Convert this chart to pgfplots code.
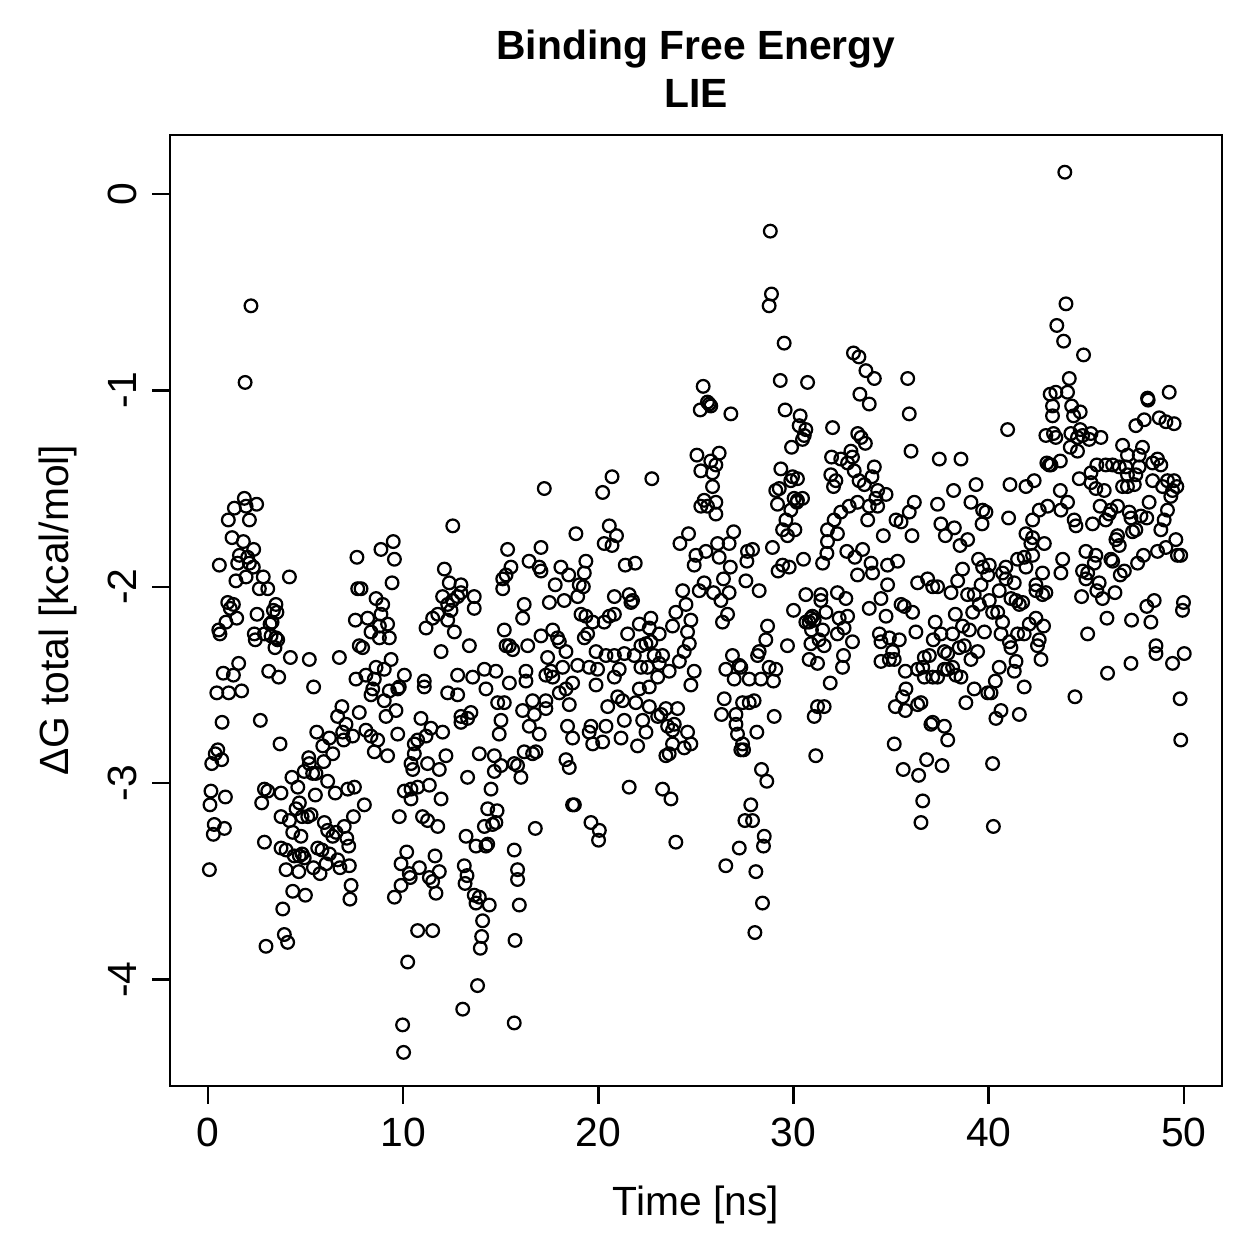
\documentclass[border=0pt]{standalone}
\usepackage{pgfplots}
\pgfplotsset{compat=1.18}
\usepackage{fontspec}
\setmainfont{Liberation Sans}
\begin{document}
\begin{tikzpicture}
\path[use as bounding box] (-68.3pt,-69.5pt) rectangle (437.6pt,436.3pt);
\begin{axis}[
  scale only axis, width=422.7pt, height=382.1pt,
  xmin=-1.95, xmax=51.95, ymin=-4.54, ymax=0.30,
  xtick={0,10,20,30,40,50}, ytick={-4,-3,-2,-1,0},
  tick align=outside, major tick length=7.2pt,
  xtick pos=bottom, ytick pos=left,
  tick style={line width=1pt, black},
  axis line style={line width=1pt},
  /pgf/number format/assume math mode=true,
  ticklabel style={font=\fontsize{16.4}{19.7}\selectfont},
  xticklabel style={anchor=base},
  yticklabel style={rotate=90, anchor=base},
  xticklabel shift=17.3pt,
  yticklabel shift=6.4pt,
]
\addplot[only marks, mark=o, mark size=2.55pt, mark options={line width=0.9pt, black}] coordinates {
(2.2,-0.57) (1.9,-0.96) (1.86,-1.55) (1.35,-1.60) (1.95,-1.59) (2.49,-1.58) (1.04,-1.66) (2.12,-1.66) (1.23,-1.75) (1.81,-1.77) (2.34,-1.81) (1.61,-1.84) (2.03,-1.85) (0.58,-1.89) (1.52,-1.88) (2.12,-1.88) (2.32,-1.90) (1.95,-1.95) (1.43,-1.97) (2.83,-1.95) (4.17,-1.95) (2.63,-2.01) (3.06,-2.01) (7.63,-1.85) (7.67,-2.01) (7.84,-2.01)
(1.01,-2.08) (1.30,-2.09) (1.14,-2.11) (1.47,-2.16) (0.92,-2.18) (0.55,-2.22) (0.61,-2.24) (2.51,-2.14) (3.48,-2.09) (3.35,-2.12) (3.53,-2.13) (3.28,-2.18) (3.18,-2.19) (2.37,-2.24) (2.42,-2.27) (2.89,-2.24) (3.23,-2.25) (3.48,-2.26) (3.57,-2.27) (3.43,-2.31) (4.22,-2.36) (5.19,-2.37) (6.73,-2.36) (7.55,-2.17) (7.75,-2.30) (7.92,-2.31) (7.58,-2.47) (1.57,-2.39) (0.78,-2.44) (1.30,-2.45) (0.45,-2.54) (1.06,-2.54) (1.72,-2.53) (3.11,-2.43) (3.62,-2.46) (5.41,-2.51) (0.72,-2.69) (2.68,-2.68) (3.69,-2.80) (0.50,-2.83) (0.37,-2.85) (0.70,-2.88) (0.19,-2.90) (5.57,-2.74) (6.22,-2.77) (5.88,-2.81) (6.39,-2.85) (5.93,-2.89) (6.64,-2.66) (6.86,-2.61) (7.07,-2.70) (6.90,-2.74) (7.41,-2.76) (6.95,-2.78) (7.75,-2.64) (5.16,-2.87) (5.19,-2.90) (4.93,-2.94) (5.36,-2.95) (5.53,-2.95) (4.30,-2.97) (4.60,-3.02) (6.13,-2.99) (5.50,-3.06) (6.52,-3.05) (7.16,-3.03) (7.50,-3.02) (0.15,-3.04) (0.10,-3.11) (0.89,-3.07) (2.89,-3.03) (3.06,-3.04) (2.75,-3.10) (3.74,-3.05) (3.74,-3.17) (4.17,-3.19) (4.51,-3.13) (4.68,-3.10) (4.82,-3.17) (5.11,-3.17) (5.28,-3.16) (4.34,-3.25) (4.76,-3.27) (7.45,-3.17) (5.96,-3.20) (6.13,-3.24) (6.39,-3.27) (6.56,-3.25) (6.98,-3.22) (7.11,-3.28) (7.21,-3.32) (0.32,-3.21) (0.27,-3.26) (0.84,-3.23) (2.89,-3.30) (3.74,-3.33) (4.0,-3.34) (4.42,-3.37) (4.68,-3.37) (4.93,-3.38) (4.82,-3.36) (5.62,-3.33) (5.84,-3.34) (6.22,-3.36) (4.0,-3.44) (4.65,-3.45) (5.40,-3.43) (5.74,-3.46) (6.05,-3.41) (6.64,-3.39) (6.76,-3.43) (7.24,-3.42) (0.07,-3.44) (7.33,-3.52) (7.27,-3.59) (4.34,-3.55) (4.99,-3.57) (3.83,-3.64) (3.91,-3.77) (4.08,-3.81) (2.97,-3.83)
(12.54,-1.69) (9.49,-1.77) (8.86,-1.81) (9.55,-1.86) (9.43,-1.98) (12.11,-1.91) (12.36,-1.98) (12.96,-1.99) (15.35,-1.81) (15.52,-1.90) (15.27,-1.94) (15.10,-1.96) (15.10,-2.01) (16.45,-1.87)
(8.61,-2.06) (8.95,-2.09) (8.18,-2.16) (8.86,-2.14) (9.20,-2.19) (8.78,-2.20) (8.35,-2.23) (8.78,-2.26) (9.29,-2.26) (9.38,-2.37) (8.61,-2.41) (9.03,-2.42) (10.06,-2.45) (8.09,-2.45) (8.52,-2.47) (8.44,-2.52) (8.35,-2.55) (9.29,-2.53) (9.72,-2.52) (9.80,-2.51) (9.03,-2.58) (9.63,-2.63) (9.12,-2.66) (8.09,-2.73) (8.35,-2.76) (8.69,-2.78) (8.52,-2.84) (9.20,-2.86) (9.72,-2.75)
(11.08,-2.48) (11.08,-2.51) (11.94,-2.33) (12.62,-2.23) (11.17,-2.21) (11.51,-2.16) (11.77,-2.14) (12.28,-2.17) (12.02,-2.05) (12.28,-2.09) (12.53,-2.07) (12.79,-2.05) (12.45,-2.12) (12.96,-2.03) (13.64,-2.05) (13.64,-2.11) (13.39,-2.30) (12.79,-2.45) (13.56,-2.46) (14.16,-2.42) (14.75,-2.43) (15.44,-2.49) (14.24,-2.52) (12.28,-2.54) (12.79,-2.55) (14.84,-2.59) (15.18,-2.59) (16.12,-2.63) (15.01,-2.68) (14.92,-2.75) (15.18,-2.22) (15.27,-2.30) (15.61,-2.32) (15.44,-2.30) (16.20,-2.09) (16.12,-2.16) (16.38,-2.30) (16.29,-2.43) (16.29,-2.48)
(10.91,-2.67) (11.42,-2.72) (12.02,-2.74) (11.17,-2.76) (10.74,-2.78) (10.57,-2.80) (10.57,-2.85) (10.40,-2.90) (10.49,-2.93) (11.25,-2.90) (11.85,-2.93) (12.19,-2.86) (12.96,-2.66) (13.47,-2.64) (12.96,-2.69) (13.30,-2.67) (13.90,-2.85) (14.67,-2.86) (15.01,-2.91) (15.69,-2.90) (15.86,-2.91) (16.03,-2.97) (14.67,-2.94) (16.20,-2.84) (13.30,-2.97) (14.50,-3.03) (11.34,-3.01) (10.06,-3.04) (10.40,-3.03) (10.74,-3.02) (10.40,-3.08) (11.94,-3.08) (8.01,-3.11) (9.80,-3.17) (10.99,-3.17) (11.25,-3.19) (11.77,-3.22)
(14.33,-3.13) (14.81,-3.14) (14.16,-3.22) (14.58,-3.21) (14.75,-3.20) (13.22,-3.27) (13.73,-3.32) (14.24,-3.32) (14.33,-3.31) (15.69,-3.34) (10.18,-3.35) (9.89,-3.41) (10.31,-3.46) (10.83,-3.43) (9.89,-3.52) (9.55,-3.58) (11.63,-3.37) (11.85,-3.45) (11.34,-3.48) (11.51,-3.50) (11.68,-3.56) (10.36,-3.48) (13.13,-3.42) (13.27,-3.47) (13.17,-3.51) (13.64,-3.57) (13.90,-3.58) (13.73,-3.61) (14.41,-3.62) (14.07,-3.70) (14.02,-3.78) (13.95,-3.84) (15.86,-3.44) (15.86,-3.49) (15.95,-3.62) (15.73,-3.80) (10.74,-3.75) (11.51,-3.75) (10.23,-3.91) (13.81,-4.03) (13.05,-4.15) (9.97,-4.23) (15.69,-4.22) (10.02,-4.37)
(17.23,-1.50) (20.70,-1.44) (20.22,-1.52) (22.74,-1.45) (18.85,-1.73) (17.06,-1.80) (20.56,-1.69) (20.93,-1.74) (20.30,-1.78) (20.70,-1.79) (24.62,-1.73) (24.18,-1.78) (16.97,-1.90) (17.06,-1.92) (18.08,-1.90) (18.48,-1.94) (17.79,-1.99) (19.36,-1.87) (19.28,-1.93) (19.02,-1.99) (19.23,-2.00) (21.38,-1.89) (21.89,-1.88) (24.32,-2.02)
(17.49,-2.08) (18.25,-2.07) (18.94,-2.05) (20.82,-2.05) (21.58,-2.04) (21.75,-2.07) (21.67,-2.08) (19.11,-2.14) (19.36,-2.15) (19.71,-2.18) (20.30,-2.18) (20.56,-2.15) (20.82,-2.14) (19.28,-2.26) (19.45,-2.24) (21.50,-2.24) (22.10,-2.19) (22.69,-2.16) (22.61,-2.21) (23.12,-2.24) (23.97,-2.13) (24.49,-2.09) (24.74,-2.17) (23.80,-2.20) (24.57,-2.23) (24.66,-2.29)
(17.06,-2.25) (17.66,-2.22) (17.91,-2.26) (18.00,-2.28) (18.34,-2.33) (17.40,-2.36) (18.17,-2.41) (17.31,-2.45) (17.57,-2.43) (17.66,-2.46) (18.94,-2.40) (18.68,-2.49) (18.34,-2.52) (18.00,-2.54) (19.88,-2.33) (20.39,-2.35) (19.96,-2.42) (19.53,-2.41) (19.88,-2.50) (20.82,-2.35) (21.33,-2.34) (21.84,-2.35) (21.07,-2.42) (20.82,-2.46) (22.18,-2.30) (22.44,-2.29) (22.69,-2.28) (22.86,-2.35) (22.18,-2.41) (22.52,-2.41) (23.12,-2.39) (23.29,-2.35) (23.63,-2.43) (24.15,-2.38) (24.40,-2.33) (23.04,-2.46) (22.61,-2.51) (22.10,-2.52) (24.74,-2.50) (24.91,-2.43)
(16.63,-2.58) (17.31,-2.58) (16.72,-2.65) (17.31,-2.62) (18.51,-2.60) (16.46,-2.71) (16.97,-2.75) (16.63,-2.85) (16.80,-2.84) (18.42,-2.71) (18.68,-2.77) (19.62,-2.71) (19.53,-2.74) (19.71,-2.80) (20.22,-2.79) (20.39,-2.71) (21.16,-2.77) (21.33,-2.68) (20.48,-2.61) (20.99,-2.56) (21.24,-2.58) (21.92,-2.59) (22.27,-2.68) (22.44,-2.74) (22.01,-2.81) (22.61,-2.61) (23.04,-2.66) (23.21,-2.65) (23.46,-2.62) (24.06,-2.62) (23.55,-2.71) (23.80,-2.73) (23.89,-2.70) (24.57,-2.74) (23.80,-2.80) (24.40,-2.82) (24.74,-2.80) (23.46,-2.86) (23.63,-2.85) (18.34,-2.88) (18.51,-2.92) (21.58,-3.02) (23.29,-3.03) (23.72,-3.08) (18.77,-3.11) (18.68,-3.11) (16.77,-3.23) (19.62,-3.20) (20.05,-3.24) (20.01,-3.29) (23.97,-3.30)
(28.81,-0.19) (28.87,-0.51) (28.75,-0.57) (29.52,-0.76) (33.07,-0.81) (33.35,-0.83) (29.32,-0.95) (30.72,-0.96) (25.37,-0.98) (25.59,-1.06) (25.68,-1.07) (25.76,-1.08) (25.22,-1.10) (26.79,-1.12) (29.57,-1.10) (30.34,-1.13) (30.29,-1.18) (30.63,-1.20) (30.55,-1.23) (30.46,-1.25) (29.90,-1.29) (32.00,-1.19) (25.05,-1.33) (25.76,-1.36) (26.19,-1.32) (26.02,-1.38) (25.25,-1.41) (25.85,-1.42) (25.85,-1.49) (25.42,-1.56) (25.25,-1.59) (25.59,-1.59) (26.02,-1.57) (26.02,-1.63)
(29.35,-1.40) (29.86,-1.46) (29.95,-1.44) (30.20,-1.45) (29.09,-1.51) (29.27,-1.50) (29.18,-1.58) (30.03,-1.55) (30.20,-1.56) (30.46,-1.55) (30.17,-1.57) (29.86,-1.61) (29.61,-1.66) (29.44,-1.71) (29.69,-1.74) (30.07,-1.71) (31.95,-1.34) (32.42,-1.35) (32.77,-1.37) (32.94,-1.31) (33.02,-1.34) (31.91,-1.43) (32.17,-1.46) (32.05,-1.49) (33.11,-1.41) (33.36,-1.46) (33.28,-1.57) (32.85,-1.59) (32.42,-1.62) (32.08,-1.66) (32.25,-1.73) (31.74,-1.71) (31.74,-1.77) (31.71,-1.83) (31.49,-1.88) (32.73,-1.82) (33.14,-1.85) (33.28,-1.94)
(25.00,-1.84) (24.91,-1.89) (25.51,-1.82) (26.11,-1.78) (26.70,-1.78) (26.93,-1.72) (26.19,-1.85) (26.76,-1.90) (27.64,-1.82) (27.90,-1.81) (27.61,-1.87) (27.56,-1.97) (28.24,-2.02) (26.41,-1.96) (25.42,-1.98) (25.17,-2.02) (25.90,-2.03) (26.70,-2.03) (28.92,-1.80) (29.21,-1.92) (29.44,-1.89) (29.78,-1.90) (30.51,-1.86)
(30.63,-2.04) (31.40,-2.04) (32.25,-2.03) (32.68,-2.06) (31.40,-2.07) (26.28,-2.07) (26.62,-2.14) (26.36,-2.18) (28.67,-2.20) (28.58,-2.27) (28.24,-2.33) (28.16,-2.35) (26.87,-2.35) (26.53,-2.42) (27.22,-2.40) (27.30,-2.41) (26.96,-2.47) (27.73,-2.47) (28.33,-2.47) (28.75,-2.41) (29.09,-2.42) (28.97,-2.48) (29.69,-2.30) (30.00,-2.12)
(30.80,-2.18) (30.89,-2.16) (30.97,-2.15) (31.06,-2.17) (30.92,-2.22) (30.63,-2.18) (31.66,-2.13) (31.49,-2.22) (32.25,-2.24) (32.34,-2.16) (32.77,-2.15) (32.59,-2.21) (33.02,-2.28) (31.31,-2.27) (30.89,-2.29) (31.57,-2.30) (30.80,-2.37) (31.23,-2.39) (32.56,-2.35) (32.51,-2.41) (31.88,-2.49)
(26.45,-2.57) (26.31,-2.65) (27.05,-2.65) (27.05,-2.70) (27.13,-2.75) (27.39,-2.80) (27.30,-2.83) (27.44,-2.83) (27.39,-2.59) (27.73,-2.59) (27.98,-2.58) (28.12,-2.74) (29.01,-2.66) (31.06,-2.66) (31.23,-2.61) (31.57,-2.61) (31.14,-2.86) (28.36,-2.93) (28.63,-2.99) (27.81,-3.11) (27.51,-3.19) (27.90,-3.19) (28.50,-3.27) (28.46,-3.32) (27.22,-3.33) (26.53,-3.42) (28.07,-3.45) (28.41,-3.61) (28.02,-3.76)
(33.71,-0.90) (34.14,-0.94) (35.85,-0.94) (33.40,-1.02) (33.88,-1.07) (35.93,-1.12) (40.97,-1.20) (33.29,-1.22) (33.46,-1.24) (33.68,-1.27) (36.02,-1.31) (37.47,-1.35) (38.58,-1.35) (33.63,-1.48) (34.14,-1.39) (34.02,-1.44) (34.31,-1.51) (34.74,-1.53) (34.22,-1.55) (33.88,-1.59) (34.31,-1.59) (33.80,-1.66) (36.19,-1.57) (35.93,-1.62) (35.25,-1.66) (35.51,-1.67) (34.60,-1.74) (36.07,-1.74)
(37.38,-1.58) (37.55,-1.68) (38.24,-1.70) (37.78,-1.74) (38.53,-1.79) (38.92,-1.76) (38.20,-1.51) (39.09,-1.57) (39.35,-1.48) (39.69,-1.61) (39.86,-1.62) (39.66,-1.68) (41.02,-1.65) (41.09,-1.48) (33.54,-1.81) (33.97,-1.88) (34.05,-1.93) (34.82,-1.89) (35.33,-1.87) (34.82,-1.99) (36.36,-1.98) (36.87,-1.96) (37.13,-2.00) (37.38,-2.00) (38.41,-1.97) (38.66,-1.91) (39.48,-1.86) (39.69,-1.90) (40.03,-1.89) (39.95,-1.94) (39.61,-1.99) (40.88,-1.90) (40.71,-1.93) (40.88,-1.96) (41.48,-1.86) (41.31,-1.98)
(34.48,-2.06) (33.88,-2.11) (34.74,-2.15) (35.51,-2.09) (35.68,-2.10) (36.10,-2.13) (38.07,-2.03) (38.92,-2.04) (39.26,-2.04) (39.52,-2.09) (40.03,-2.07) (40.54,-2.02) (41.14,-2.06) (41.40,-2.07) (41.57,-2.09) (41.74,-2.08) (40.20,-2.13) (40.46,-2.13) (39.18,-2.13) (38.29,-2.14) (37.26,-2.18) (37.55,-2.24) (37.16,-2.27) (38.15,-2.24) (38.66,-2.20) (39.01,-2.22) (39.78,-2.23) (40.71,-2.18) (40.63,-2.24) (41.06,-2.28) (41.14,-2.31) (41.48,-2.24) (41.82,-2.24)
(34.40,-2.24) (34.48,-2.28) (34.91,-2.26) (35.42,-2.27) (35.08,-2.33) (34.91,-2.37) (35.16,-2.37) (34.48,-2.38) (35.73,-2.43) (36.27,-2.23) (36.70,-2.36) (36.96,-2.35) (36.62,-2.41) (36.36,-2.42) (36.70,-2.46) (37.13,-2.46) (37.38,-2.46) (37.73,-2.33) (37.90,-2.34) (37.90,-2.42) (37.73,-2.42) (38.15,-2.41) (38.32,-2.45) (38.58,-2.46) (38.49,-2.31) (38.75,-2.30) (39.09,-2.37) (39.43,-2.33)
(39.26,-2.52) (38.83,-2.59) (39.95,-2.54) (40.12,-2.54) (40.54,-2.41) (40.34,-2.48) (41.31,-2.43) (41.40,-2.38) (35.76,-2.52) (35.59,-2.56) (35.22,-2.61) (35.73,-2.63) (36.36,-2.60) (36.53,-2.59) (40.63,-2.63) (40.37,-2.67) (41.57,-2.65) (41.82,-2.51) (37.04,-2.70) (37.13,-2.69) (37.73,-2.71) (37.90,-2.78) (35.16,-2.80) (36.82,-2.88) (35.62,-2.93) (36.41,-2.96) (37.61,-2.91) (40.20,-2.90) (36.62,-3.09) (36.53,-3.20) (40.24,-3.22)
(43.90,0.11) (43.96,-0.56) (43.49,-0.67) (43.84,-0.75) (44.86,-0.82) (44.13,-0.94) (43.15,-1.02) (43.44,-1.01) (44.04,-1.01) (43.27,-1.08) (43.27,-1.13) (44.25,-1.08) (44.35,-1.13) (44.69,-1.11) (48.14,-1.04) (48.17,-1.05) (49.25,-1.01) (47.54,-1.18) (47.97,-1.15) (48.74,-1.14) (49.08,-1.16) (49.50,-1.17)
(42.93,-1.23) (43.32,-1.22) (43.44,-1.24) (44.21,-1.22) (44.69,-1.20) (44.81,-1.23) (45.24,-1.22) (45.15,-1.25) (45.75,-1.24) (44.55,-1.24) (44.18,-1.29) (44.55,-1.31) (46.86,-1.28) (47.88,-1.29) (47.11,-1.33) (47.71,-1.33) (42.98,-1.37) (43.10,-1.38) (43.19,-1.38) (43.67,-1.36)
(45.54,-1.38) (46.00,-1.38) (46.35,-1.38) (46.69,-1.39) (47.03,-1.39) (45.24,-1.42) (47.11,-1.43) (47.54,-1.43) (47.71,-1.39) (48.40,-1.37) (48.65,-1.35) (48.82,-1.38) (44.64,-1.45) (45.24,-1.47) (45.49,-1.50) (45.92,-1.51) (46.86,-1.49) (47.11,-1.49) (47.46,-1.48) (48.40,-1.46) (49.16,-1.46) (48.91,-1.49) (49.50,-1.46) (49.64,-1.49) (49.42,-1.51) (49.33,-1.54)
(42.33,-1.46) (41.91,-1.49) (43.67,-1.51) (44.04,-1.57) (43.02,-1.59) (42.59,-1.61) (42.25,-1.66) (43.70,-1.61) (45.71,-1.59) (46.26,-1.61) (46.17,-1.63) (46.00,-1.66) (46.60,-1.59) (47.20,-1.62) (47.29,-1.65) (47.80,-1.64) (48.10,-1.65) (48.22,-1.57) (49.16,-1.61) (48.99,-1.66) (48.82,-1.71) (44.38,-1.66) (44.47,-1.69) (45.32,-1.68) (47.37,-1.72) (47.54,-1.71) (46.52,-1.76) (46.69,-1.79) (46.60,-1.74)
(41.91,-1.73) (42.25,-1.75) (42.85,-1.78) (42.16,-1.78) (41.82,-1.85) (42.25,-1.84) (41.91,-1.90) (42.76,-1.93) (42.42,-1.99) (43.79,-1.86) (43.70,-1.93) (44.98,-1.82) (45.49,-1.84) (45.41,-1.88) (44.81,-1.92) (45.07,-1.93) (44.98,-1.96) (45.66,-1.98) (46.26,-1.86) (46.35,-1.87) (46.74,-1.94) (46.95,-1.92) (47.63,-1.88) (47.93,-1.84) (48.65,-1.82) (49.08,-1.80) (49.59,-1.76) (49.67,-1.84) (49.84,-1.84)
(42.42,-2.02) (42.76,-2.04) (42.93,-2.03) (42.42,-2.16) (42.08,-2.19) (42.81,-2.20) (42.59,-2.27) (42.50,-2.30) (42.68,-2.37) (44.76,-2.05) (45.54,-2.02) (45.83,-2.06) (46.47,-2.03) (46.06,-2.16) (47.32,-2.17) (45.07,-2.24) (46.09,-2.44) (47.29,-2.39) (44.42,-2.56) (48.10,-2.10) (48.48,-2.07) (48.31,-2.18) (48.57,-2.30) (48.57,-2.34) (49.42,-2.39) (50.02,-2.34) (49.98,-2.08) (49.93,-2.12) (49.81,-2.57) (49.84,-2.78)
};
\end{axis}
\node[anchor=base, font=\fontsize{16.4}{19.7}\selectfont\bfseries] at ([yshift=30.1pt]current axis.north) {Binding Free Energy};
\node[anchor=base, font=\fontsize{16.4}{19.7}\selectfont\bfseries] at ([yshift=10.85pt]current axis.north) {LIE};
\node[anchor=base, font=\fontsize{16.4}{19.7}\selectfont] at ([yshift=-52.2pt]current axis.south) {Time [ns]};
\node[anchor=base, rotate=90, font=\fontsize{16.4}{19.7}\selectfont] at ([xshift=-40.6pt]current axis.west) {ΔG total [kcal/mol]};
\end{tikzpicture}
\end{document}
